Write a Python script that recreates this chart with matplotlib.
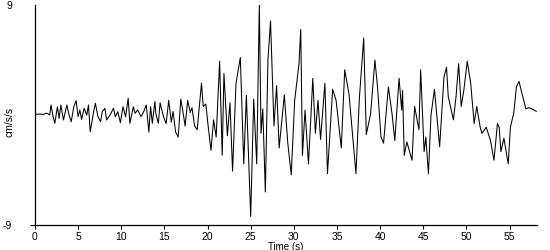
import matplotlib
matplotlib.use('Agg')
import matplotlib.pyplot as plt

# waktu (s) dan percepatan (cm/s/s)
waktu = [0, 0.5, 1.0, 1.3, 1.5, 1.7, 1.86, 2.1, 2.3, 2.6, 2.8, 3.0, 3.3, 3.7, 3.9,
         4.2, 4.5, 4.77, 5.0, 5.2, 5.4, 5.7, 6.0, 6.2, 6.4, 6.8, 7.0, 7.3, 7.6, 7.8,
         8.1, 8.3, 8.7, 9.1, 9.3, 9.6, 9.9, 10.2, 10.5, 10.8, 11.0, 11.4, 11.6, 11.9,
         12.3, 12.6, 12.9, 13.2, 13.4, 13.6, 13.9, 14.0, 14.3, 14.5, 14.9, 15.2, 15.5,
         15.8, 16.0, 16.3, 16.6, 16.9, 17.1, 17.4, 17.7, 18.0, 18.2, 18.5, 18.8, 19.0,
         19.3, 19.5, 19.8, 20.1, 20.4, 20.7, 21.0, 21.4, 21.7, 21.9, 22.3, 22.6, 22.9,
         23.3, 23.8, 24.2, 24.5, 25.0, 25.35, 25.7, 26.0, 26.2, 26.4, 26.7, 27.0, 27.3,
         27.7, 28.0, 28.3, 28.6, 28.9, 29.3, 29.7, 30.1, 30.6, 30.8, 31.0, 31.3, 31.7,
         32.2, 32.5, 32.8, 33.1, 33.6, 33.9, 34.5, 34.9, 35.5, 35.9, 36.4, 37.2, 37.6,
         38.1, 38.4, 38.9, 39.4, 39.7, 40.1, 40.4, 40.96, 41.4, 41.7, 42.2, 42.5, 42.6,
         42.8, 43.1, 43.7, 44.0, 44.5, 44.7, 45.1, 45.3, 45.6, 45.9, 46.3, 46.9, 47.4,
         47.7, 47.9, 48.5, 48.8, 49.1, 49.4, 49.7, 50.1, 50.5, 50.9, 51.2, 51.6, 51.8,
         52.3, 52.8, 53.2, 53.6, 53.8, 54.0, 54.35, 54.85, 55.1, 55.5, 55.8, 56.1, 56.5,
         56.9, 57.2, 57.6, 58.1]
akselerasi = [0.05, 0.08, 0.05, 0.15, 0.1, 0.0, 0.82, -0.14, -0.68, 0.68, -0.27, 0.82,
              -0.41, 0.82, 0.14, -0.55, 0.68, 1.17, -0.14, 0.41, -0.36, 0.55, 0.0, 0.82,
              -1.37, 0.27, 0.96, -0.14, -0.55, 0.27, 0.55, -0.41, 0.0, 0.55, -0.14, 0.27,
              -0.63, 0.68, -0.14, 1.36, -0.68, 0.68, 0.14, 0.41, -0.14, 0.27, 0.82, -1.4,
              0.68, -0.68, 1.1, 0.14, -0.68, 1.0, -0.14, -0.7, 1.2, -0.6, 0.3, -1.4, -1.8,
              1.3, 0.5, -0.9, 1.2, 0.2, 0.6, -0.9, -1.2, 0.3, 2.6, 0.7, 0.9, -1.1, -2.9,
              -0.4, -1.8, 4.4, -3.3, 3.4, -1.7, 1.0, -4.6, 2.6, 4.7, -4.0, 1.6, -8.3, 1.3,
              -4.0, 9.0, -1.5, 0.5, -6.3, 4.5, 7.7, -0.9, 2.4, -2.7, -0.5, 1.65, -2.3,
              -4.9, 1.2, 4.2, 7.0, -3.3, 0.4, -4.0, 3.0, -1.5, 1.2, -2.0, 2.6, -4.8, 2.1,
              1.2, -2.7, 3.7, 1.7, -4.8, 1.4, 6.3, -1.6, 0.1, 4.5, 2.3, -1.8, -2.3, 2.3,
              0.0, -2.1, 3.0, 0.4, 2.0, -3.3, -2.2, -3.7, 0.7, -1.2, 3.7, -3.0, -1.8,
              -4.8, 0.0, 2.1, -2.6, 3.1, 3.9, 1.5, -0.4, 1.5, 4.2, 0.7, 2.0, 4.4, 2.6,
              -0.7, 0.7, -1.0, -1.5, -1.0, -2.1, -3.7, -0.7, -1.0, -3.0, -1.9, -4.0, -1.0,
              0.2, 2.3, 2.75, 1.6, 0.5, 0.6, 0.5, 0.3]

x_ticks = [0, 5, 10, 15, 20, 25, 30, 35, 40, 45, 50, 55]
y_ticks = [-9, 9]

plt.rcParams['font.family'] = ['Liberation Sans', 'DejaVu Sans']
plt.rcParams['axes.unicode_minus'] = False

fig = plt.figure(figsize=(5.5, 2.5), dpi=100)
ax = fig.add_axes([0.0636, 0.1, 0.913, 0.88])
ax.plot(waktu, akselerasi, color='black', linewidth=0.75)

ax.set_xlim(0, 58.2)
ax.set_ylim(-9, 9)
ax.set_xticks(x_ticks)
ax.set_yticks(y_ticks)
ax.tick_params(axis='x', labelsize=7.5, length=3, width=0.8, pad=2)
ax.tick_params(axis='y', labelsize=7.5, length=3.6, width=0.8, pad=13)
ax.yaxis.get_major_ticks()[1].tick1line.set_visible(False)
for s in ['left', 'bottom']:
    ax.spines[s].set_linewidth(0.9)
ax.spines['top'].set_visible(False)
ax.spines['right'].set_visible(False)
ax.set_xlabel('Time (s)', fontsize=7)
ax.xaxis.set_label_coords(0.5, -0.075)
ax.set_ylabel('cm/s/s', fontsize=7.5)
ax.yaxis.set_label_coords(-0.04, 0.47)

fig.savefig('out.png', dpi=100)
